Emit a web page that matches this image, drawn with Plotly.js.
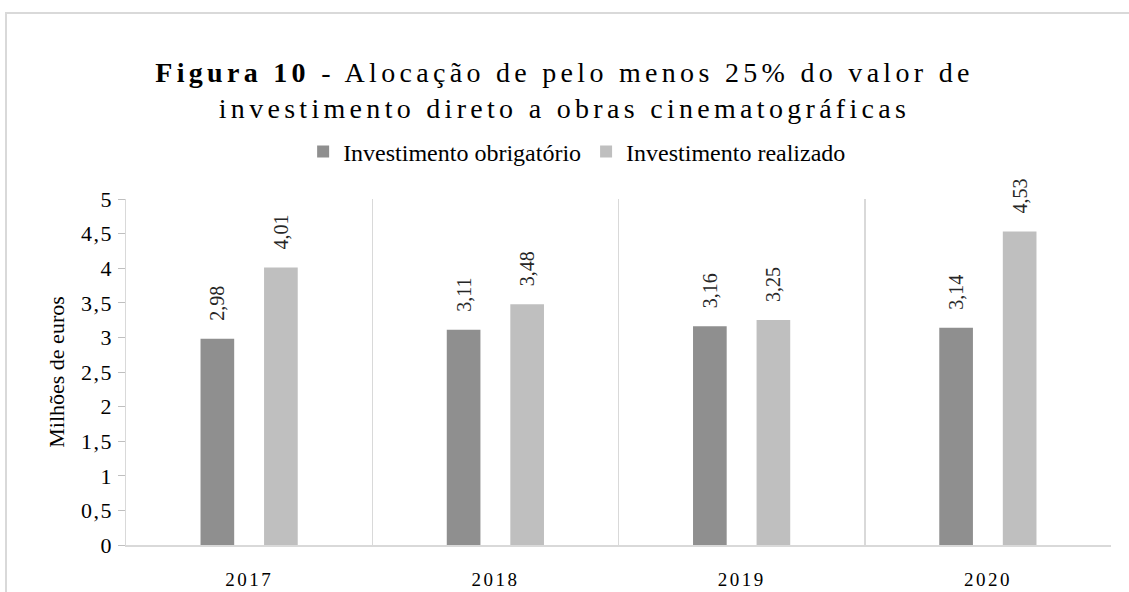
<!DOCTYPE html>
<html>
<head>
<meta charset="utf-8">
<script src="https://cdn.plot.ly/plotly-3.0.1.min.js"></script>
<style>
  html, body { margin: 0; padding: 0; background: #ffffff; }
  #chart { width: 1129px; height: 592px; }
  .gtitle { letter-spacing: 4.3px; }
  .xtick text { letter-spacing: 2.5px; }
  .ytick text { letter-spacing: 1.5px; }
</style>
</head>
<body>
<div id="chart"></div>
<script>
const categories = ['2017', '2018', '2019', '2020'];
const investimentoObrigatorio = [2.98, 3.11, 3.16, 3.14];
const investimentoRealizado = [4.01, 3.48, 3.25, 4.53];
const seriesNames = ['Investimento obrigatório', 'Investimento realizado'];
const titleText = '<b>Figura 10</b> - Alocação de pelo menos 25% do valor de<br>investimento direto a obras cinematográficas';
const yTitle = 'Milhões de euros';

const serif = 'Liberation Serif, Times New Roman, serif';

const common = {
  type: 'bar',
  x: categories,
  texttemplate: '\u00a0\u00a0\u00a0%{y:.2f}',
  textposition: 'outside',
  textangle: -90,
  textfont: { family: serif, size: 20, color: '#262626' },
  cliponaxis: false,
  constraintext: 'none',
  hoverinfo: 'skip'
};

const traces = [
  Object.assign({}, common, {
    name: seriesNames[0],
    y: investimentoObrigatorio,
    marker: { color: '#8f8f8f', line: { width: 0 } }
  }),
  Object.assign({}, common, {
    name: seriesNames[1],
    y: investimentoRealizado,
    marker: { color: '#bfbfbf', line: { width: 0 } }
  })
];

const layout = {
  width: 1129,
  height: 592,
  margin: { l: 126, r: 18, t: 199, b: 47, pad: 0 },
  paper_bgcolor: '#ffffff',
  plot_bgcolor: '#ffffff',
  separators: ',.',
  barmode: 'group',
  bargap: 0.484,
  bargroupgap: 0.47,
  showlegend: true,
  title: {
    text: titleText,
    font: { family: serif, size: 28, color: '#000000' },
    x: 0.5,
    xref: 'container',
    xanchor: 'center',
    y: 1 - 82 / 592,
    yref: 'container',
    yanchor: 'top'
  },
  legend: {
    orientation: 'h',
    x: 0.458,
    xanchor: 'center',
    y: 1.136,
    yanchor: 'middle',
    font: { family: serif, size: 24, color: '#000000' },
    itemwidth: 30,
    bgcolor: 'rgba(0,0,0,0)'
  },
  xaxis: {
    type: 'category',
    tickson: 'boundaries',
    showgrid: true,
    gridcolor: '#d9d9d9',
    gridwidth: 1.5,
    showline: true,
    linecolor: '#d9d9d9',
    linewidth: 1.5,
    ticks: '',
    zeroline: false,
    tickfont: { family: serif, size: 19, color: '#000000' },
    ticklabelstandoff: 17,
    fixedrange: true
  },
  yaxis: {
    range: [0, 5],
    tick0: 0,
    dtick: 0.5,
    showgrid: false,
    zeroline: false,
    showline: true,
    linecolor: '#d9d9d9',
    linewidth: 1.5,
    ticks: 'outside',
    ticklen: 7,
    tickwidth: 1,
    tickcolor: '#bfbfbf',
    tickfont: { family: serif, size: 22, color: '#000000' },
    title: { text: yTitle, font: { family: serif, size: 22, color: '#000000' }, standoff: 10 },
    fixedrange: true
  },
  shapes: [
    {
      type: 'rect',
      xref: 'paper', yref: 'paper',
      x0: (6 - 126) / 985, x1: (1140 - 126) / 985,
      y0: (545 - 610) / 346, y1: (545 - 13) / 346,
      line: { color: '#d9d9d9', width: 2 },
      fillcolor: 'rgba(0,0,0,0)',
      layer: 'below'
    }
  ]
};

Plotly.newPlot('chart', traces, layout, { displayModeBar: false, staticPlot: true });
</script>
</body>
</html>
